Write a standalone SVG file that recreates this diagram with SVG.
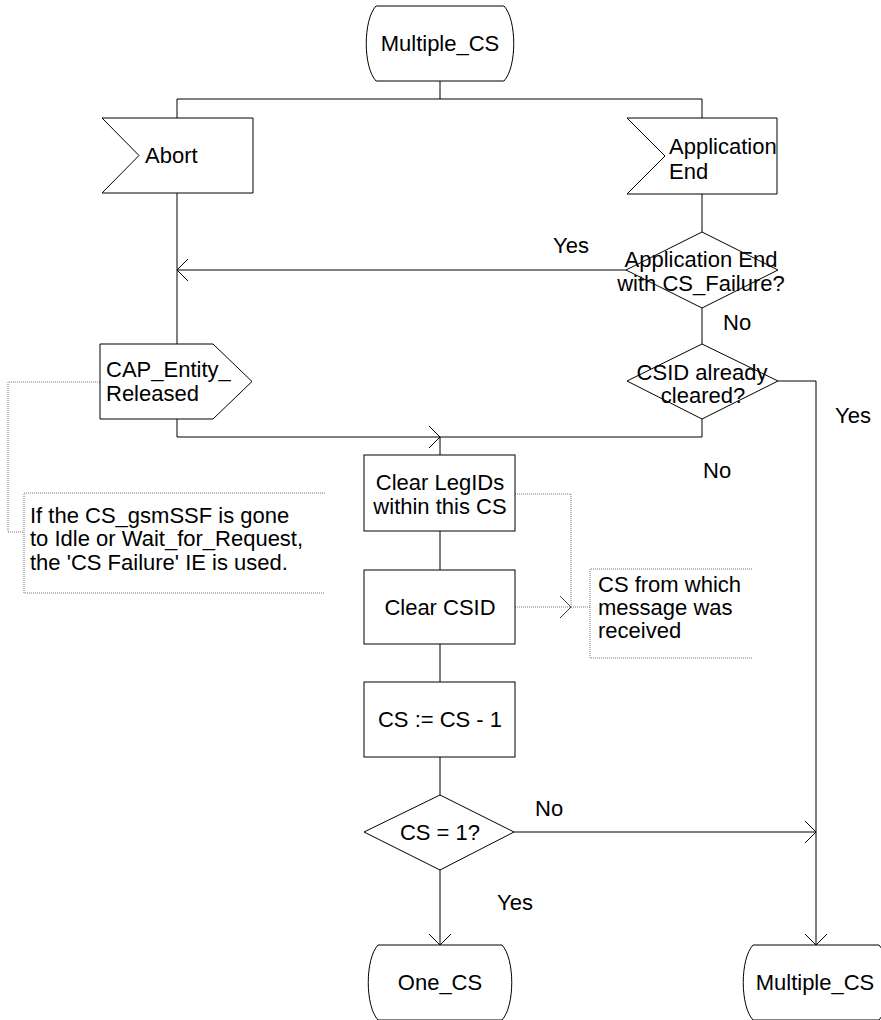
<svg xmlns="http://www.w3.org/2000/svg" width="881" height="1020" viewBox="0 0 881 1020">
<style>
.s{fill:#fff;stroke:#000;stroke-width:1}
.c{fill:none;stroke:#000;stroke-width:1}
.d{fill:none;stroke:#777;stroke-width:1;stroke-dasharray:1,1}
text{font-family:"Liberation Sans",Arial,sans-serif;font-size:22px;fill:#000}
.m{text-anchor:middle}
</style>
<defs>
<marker id="a" markerUnits="userSpaceOnUse" markerWidth="14" markerHeight="26" refX="11" refY="11" orient="auto" viewBox="-1 -1 14 24">
<path d="M0,0 L11,11 L0,22" fill="none" stroke="#000" stroke-width="1"/>
</marker>
<marker id="ag" markerUnits="userSpaceOnUse" markerWidth="14" markerHeight="26" refX="11" refY="11" orient="auto" viewBox="-1 -1 14 24">
<path d="M0,0 L11,11 L0,22" fill="none" stroke="#444" stroke-width="1"/>
</marker>
</defs>
<g id="connectors">
<path class="c" d="M440,81 V99 M177,99 H702 M177,99 V118 M702,99 V118"/>
<path class="c" d="M177,193 V344"/>
<path class="c" d="M702,194 V232"/>
<path class="c" d="M626,270 H177" marker-end="url(#a)"/>
<path class="c" d="M702,308 V344"/>
<path class="c" d="M177,419 V437 H440" marker-end="url(#a)"/>
<path class="c" d="M702,419 V437 H440 M440,437 V455"/>
<path class="c" d="M778,381 H816 V945" marker-end="url(#a)"/>
<path class="c" d="M440,531 V570 M440,644 V682 M440,757 V795"/>
<path class="c" d="M514,832 H816" marker-end="url(#a)"/>
<path class="c" d="M440,870 V945" marker-end="url(#a)"/>
<path class="d" d="M100,382 H8 V532 H24"/>
<path class="d" d="M515,494 H571 V607"/>
<path class="d" d="M515,607 H571" marker-end="url(#ag)"/>
<path class="d" d="M571,607 H590"/>
<text x="553" y="253">Yes</text>
<text x="723" y="330">No</text>
<text x="835" y="423">Yes</text>
<text x="703" y="478">No</text>
<text x="535" y="816">No</text>
<text x="497" y="910">Yes</text>
</g>
<g id="start">
<path class="s" d="M376,6 H504 C517,20 517,67 504,81 H376 C363,67 363,20 376,6 Z"/>
<text class="m" x="440" y="51">Multiple_CS</text>
</g>
<g id="abort">
<polygon class="s" points="102,118 253,118 253,193 102,193 139,155.5"/>
<text x="145" y="163">Abort</text>
</g>
<g id="appEnd">
<polygon class="s" points="627,118 777,118 777,194 627,194 665,156"/>
<text x="669" y="154">Application</text>
<text x="669" y="179">End</text>
</g>
<g id="dec1">
<polygon class="s" points="702,232 778,270 702,308 626,270"/>
<text class="m" x="701" y="267">Application End</text>
<text class="m" x="701" y="291">with CS_Failure?</text>
</g>
<g id="dec2">
<polygon class="s" points="702,344 778,381 702,419 627,381"/>
<text class="m" x="702" y="380">CSID already</text>
<text class="m" x="703" y="403">cleared?</text>
</g>
<g id="capEntity">
<polygon class="s" points="100,344 213,344 252,381.5 213,419 100,419"/>
<text x="106" y="377">CAP_Entity_</text>
<text x="106" y="401">Released</text>
</g>
<g id="comment1">
<path class="d" d="M325,493 H24 V593 H325"/>
<text x="30" y="523">If the CS_gsmSSF is gone</text>
<text x="30" y="546">to Idle or Wait_for_Request,</text>
<text x="30" y="570">the 'CS Failure' IE is used.</text>
</g>
<g id="clearLeg">
<rect class="s" x="364" y="455" width="151" height="76"/>
<text class="m" x="440" y="490">Clear LegIDs</text>
<text class="m" x="440" y="514">within this CS</text>
</g>
<g id="clearCSID">
<rect class="s" x="364" y="570" width="151" height="74"/>
<text class="m" x="440" y="615">Clear CSID</text>
</g>
<g id="comment2">
<path class="d" d="M752,569 H590 V658 H752"/>
<text x="598" y="592">CS from which</text>
<text x="598" y="615">message was</text>
<text x="598" y="638">received</text>
</g>
<g id="dec">
<rect class="s" x="364" y="682" width="151" height="75"/>
<text class="m" x="440" y="727">CS := CS - 1</text>
</g>
<g id="dec3">
<polygon class="s" points="440,795 514,832 440,870 364,832"/>
<text class="m" x="440" y="840">CS = 1?</text>
</g>
<g id="oneCS">
<path class="s" d="M378,945 H502 C515,959 515,1006 502,1020 H378 C365,1006 365,959 378,945 Z"/>
<text class="m" x="440" y="990">One_CS</text>
</g>
<g id="multiCS">
<path class="s" d="M753,945 H879 C892,959 892,1006 879,1020 H753 C740,1006 740,959 753,945 Z"/>
<text class="m" x="815" y="990">Multiple_CS</text>
</g>
</svg>
